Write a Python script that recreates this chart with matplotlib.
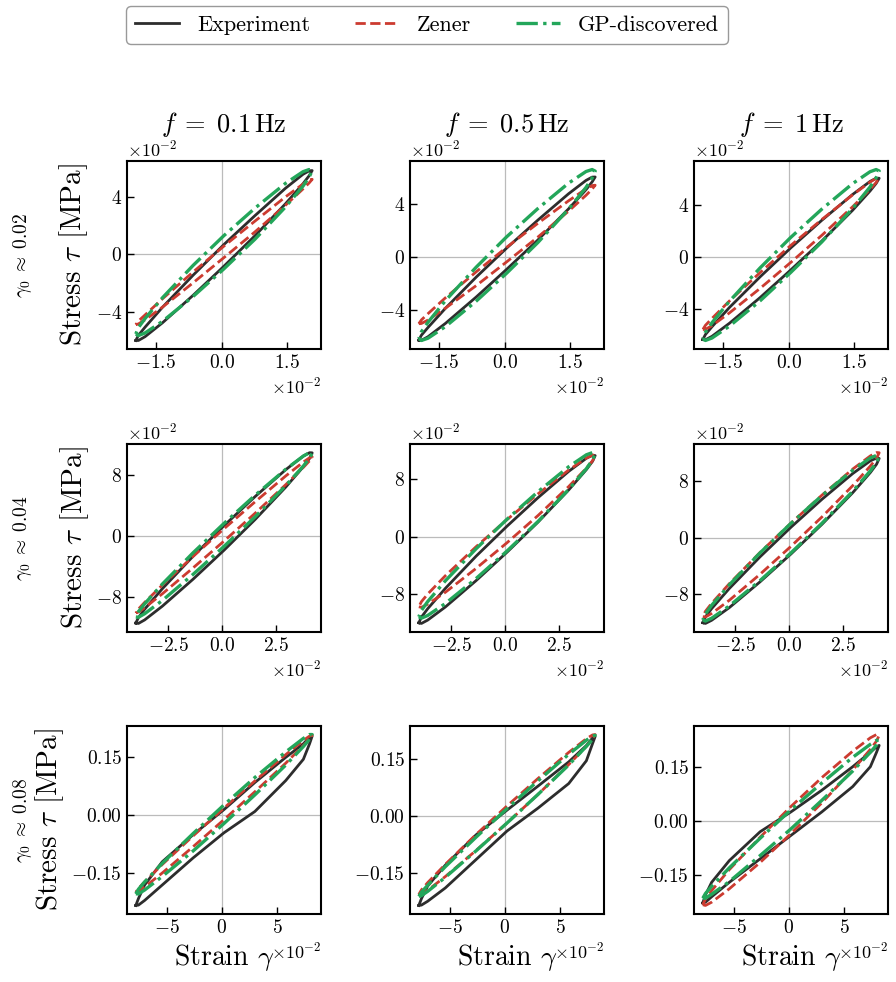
import numpy as np
import matplotlib.pyplot as plt
from matplotlib.ticker import ScalarFormatter

plt.rcParams['font.family'] = 'serif'
plt.rcParams['font.serif'] = ['cmr10']
plt.rcParams['mathtext.fontset'] = 'cm'
plt.rcParams['axes.formatter.use_mathtext'] = True

# column / row headers
freqs = ['0.1', '0.5', '1']
amps = ['0.02', '0.04', '0.08']

# strain grid for each row (x 1e-2)
strain_r1 = [-1.96, -1.90, -1.75, -1.35, -0.65, 0.05, 0.76, 1.46, 1.86, 2.0, 2.07]
strain_r2 = [-4.0, -3.88, -3.59, -2.77, -1.34, 0.1, 1.54, 2.97, 3.79, 4.08, 4.2]
strain_r3 = [-7.8, -7.56, -7.0, -5.4, -2.6, 0.2, 3.0, 5.8, 7.4, 7.96, 8.2]

# ticks per row
xticks_rows = [[-0.015, 0, 0.015], [-0.025, 0, 0.025], [-0.05, 0, 0.05]]
yticks_rows = [[-0.04, 0, 0.04], [-0.08, 0, 0.08], [-0.15, 0, 0.15]]
stress_scale = [1e-2, 1e-2, 1.0]

# stress on the upper and lower branch of each loop
# row 1 (x 1e-2 MPa)
exp_up_11 = [-6.0, -5.64, -5.08, -3.69, -1.46, 0.66, 2.67, 4.58, 5.55, 5.79, 5.81]
exp_lo_11 = [-6.0, -6.0, -5.74, -4.77, -2.86, -0.85, 1.27, 3.50, 4.89, 5.45, 5.81]
zen_up_11 = [-4.9, -4.65, -4.23, -3.10, -1.24, 0.55, 2.29, 3.98, 4.87, 5.15, 5.2]
zen_lo_11 = [-4.9, -4.85, -4.57, -3.68, -1.99, -0.25, 1.54, 3.40, 4.53, 4.95, 5.2]
gp_up_11 = [-5.55, -5.10, -4.48, -3.03, -0.78, 1.28, 3.19, 4.92, 5.73, 5.88, 5.8]
gp_lo_11 = [-5.55, -5.66, -5.48, -4.67, -2.94, -1.03, 1.03, 3.28, 4.73, 5.35, 5.8]

exp_up_12 = [-6.26, -5.88, -5.30, -3.85, -1.51, 0.69, 2.79, 4.77, 5.78, 6.03, 6.04]
exp_lo_12 = [-6.26, -6.27, -6.00, -4.99, -3.01, -0.91, 1.29, 3.63, 5.08, 5.67, 6.04]
zen_up_12 = [-5.02, -4.73, -4.26, -3.06, -1.11, 0.75, 2.55, 4.24, 5.14, 5.39, 5.42]
zen_lo_12 = [-5.02, -5.00, -4.74, -3.84, -2.15, -0.35, 1.51, 3.46, 4.66, 5.13, 5.42]
gp_up_12 = [-6.14, -5.62, -4.91, -3.27, -0.76, 1.54, 3.66, 5.57, 6.45, 6.60, 6.48]
gp_lo_12 = [-6.14, -6.28, -6.11, -5.23, -3.32, -1.20, 1.10, 3.61, 5.25, 5.96, 6.48]

exp_up_13 = [-6.36, -5.97, -5.37, -3.88, -1.52, 0.71, 2.84, 4.82, 5.83, 6.08, 6.08]
exp_lo_13 = [-6.36, -6.38, -6.11, -5.10, -3.12, -0.99, 1.24, 3.60, 5.09, 5.68, 6.08]
zen_up_13 = [-5.59, -5.26, -4.73, -3.38, -1.19, 0.90, 2.90, 4.79, 5.78, 6.07, 6.08]
zen_lo_13 = [-5.59, -5.57, -5.29, -4.30, -2.41, -0.41, 1.68, 3.87, 5.22, 5.75, 6.08]
gp_up_13 = [-6.3, -5.78, -5.06, -3.40, -0.83, 1.52, 3.70, 5.66, 6.58, 6.75, 6.64]
gp_lo_13 = [-6.3, -6.43, -6.24, -5.32, -3.37, -1.18, 1.17, 3.74, 5.40, 6.12, 6.64]

# row 2 (x 1e-2 MPa)
exp_up_21 = [-11.37, -10.65, -9.56, -6.89, -2.64, 1.36, 5.15, 8.68, 10.47, 10.9, 10.88]
exp_lo_21 = [-11.37, -11.42, -10.96, -9.17, -5.64, -1.85, 2.15, 6.40, 9.07, 10.16, 10.88]
zen_up_21 = [-10.04, -9.54, -8.67, -6.41, -2.66, 0.96, 4.47, 7.86, 9.68, 10.24, 10.35]
zen_lo_21 = [-10.04, -9.93, -9.37, -7.55, -4.16, -0.65, 2.97, 6.72, 8.98, 9.85, 10.35]
gp_up_21 = [-10.57, -9.88, -8.85, -6.28, -2.19, 1.66, 5.32, 8.73, 10.46, 10.92, 10.88]
gp_lo_21 = [-10.57, -10.61, -10.15, -8.42, -5.01, -1.35, 2.50, 6.59, 9.16, 10.19, 10.88]

exp_up_22 = [-11.94, -11.16, -10.00, -7.19, -2.73, 1.43, 5.37, 9.02, 10.83, 11.25, 11.2]
exp_lo_22 = [-11.94, -12.03, -11.57, -9.76, -6.11, -2.17, 1.99, 6.45, 9.26, 10.42, 11.2]
zen_up_22 = [-9.72, -9.02, -7.97, -5.44, -1.42, 2.34, 5.90, 9.20, 10.85, 11.28, 11.2]
zen_lo_22 = [-9.72, -9.80, -9.37, -7.72, -4.42, -0.86, 2.90, 6.92, 9.45, 10.50, 11.2]
gp_up_22 = [-11.1, -10.23, -9.01, -6.14, -1.70, 2.39, 6.20, 9.66, 11.31, 11.62, 11.48]
gp_lo_22 = [-11.1, -11.30, -10.93, -9.28, -5.82, -2.01, 2.08, 6.52, 9.39, 10.61, 11.48]

exp_up_23 = [-12.09, -11.28, -10.09, -7.23, -2.72, 1.50, 5.47, 9.13, 10.94, 11.35, 11.28]
exp_lo_23 = [-12.09, -12.20, -11.75, -9.95, -6.28, -2.31, 1.91, 6.41, 9.28, 10.47, 11.28]
zen_up_23 = [-11.23, -10.48, -9.34, -6.55, -2.10, 2.08, 6.06, 9.77, 11.64, 12.12, 12.09]
zen_lo_23 = [-11.23, -11.28, -10.78, -8.91, -5.20, -1.22, 2.96, 7.41, 10.20, 11.34, 12.09]
gp_up_23 = [-11.7, -10.84, -9.62, -6.71, -2.16, 2.05, 6.00, 9.61, 11.36, 11.72, 11.6]
gp_lo_23 = [-11.7, -11.86, -11.46, -9.71, -6.10, -2.15, 2.06, 6.61, 9.52, 10.74, 11.6]

# row 3 (MPa)
exp_up_31 = [-0.233, -0.215, -0.18, -0.12, -0.05, 0.015, 0.085, 0.15, 0.185, 0.202, 0.205]
exp_lo_31 = [-0.233, -0.232, -0.22, -0.18, -0.11, -0.045, 0.01, 0.09, 0.145, 0.185, 0.205]
zen_up_31 = [-0.199, -0.189, -0.172, -0.127, -0.053, 0.019, 0.089, 0.157, 0.194, 0.205, 0.2075]
zen_lo_31 = [-0.199, -0.197, -0.185, -0.149, -0.081, -0.011, 0.061, 0.135, 0.181, 0.197, 0.2075]
gp_up_31 = [-0.203, -0.191, -0.172, -0.124, -0.047, 0.027, 0.098, 0.164, 0.199, 0.209, 0.209]
gp_lo_31 = [-0.203, -0.203, -0.193, -0.158, -0.092, -0.021, 0.053, 0.130, 0.178, 0.197, 0.209]

exp_up_32 = [-0.236, -0.218, -0.185, -0.13, -0.05, 0.015, 0.078, 0.142, 0.185, 0.205, 0.209]
exp_lo_32 = [-0.236, -0.235, -0.225, -0.19, -0.115, -0.04, 0.02, 0.085, 0.145, 0.19, 0.209]
zen_up_32 = [-0.207, -0.195, -0.176, -0.128, -0.049, 0.026, 0.098, 0.167, 0.203, 0.213, 0.214]
zen_lo_32 = [-0.207, -0.206, -0.196, -0.160, -0.091, -0.019, 0.056, 0.135, 0.183, 0.203, 0.214]
gp_up_32 = [-0.212, -0.201, -0.183, -0.134, -0.056, 0.019, 0.092, 0.162, 0.199, 0.210, 0.212]
gp_lo_32 = [-0.212, -0.210, -0.199, -0.162, -0.092, -0.019, 0.056, 0.134, 0.183, 0.201, 0.212]

exp_up_33 = [-0.227, -0.205, -0.17, -0.11, -0.03, 0.025, 0.085, 0.15, 0.19, 0.205, 0.209]
exp_lo_33 = [-0.227, -0.225, -0.21, -0.17, -0.105, -0.04, 0.025, 0.095, 0.15, 0.19, 0.209]
zen_up_33 = [-0.232, -0.216, -0.193, -0.135, -0.045, 0.040, 0.120, 0.193, 0.230, 0.239, 0.237]
zen_lo_33 = [-0.232, -0.234, -0.225, -0.188, -0.115, -0.035, 0.050, 0.141, 0.198, 0.221, 0.237]
gp_up_33 = [-0.214, -0.201, -0.181, -0.130, -0.048, 0.031, 0.105, 0.176, 0.212, 0.223, 0.223]
gp_lo_33 = [-0.214, -0.214, -0.203, -0.168, -0.096, -0.022, 0.057, 0.138, 0.190, 0.210, 0.223]

strain_rows = [strain_r1, strain_r2, strain_r3]
loops = {
    (0, 0): [(exp_up_11, exp_lo_11), (zen_up_11, zen_lo_11), (gp_up_11, gp_lo_11)],
    (0, 1): [(exp_up_12, exp_lo_12), (zen_up_12, zen_lo_12), (gp_up_12, gp_lo_12)],
    (0, 2): [(exp_up_13, exp_lo_13), (zen_up_13, zen_lo_13), (gp_up_13, gp_lo_13)],
    (1, 0): [(exp_up_21, exp_lo_21), (zen_up_21, zen_lo_21), (gp_up_21, gp_lo_21)],
    (1, 1): [(exp_up_22, exp_lo_22), (zen_up_22, zen_lo_22), (gp_up_22, gp_lo_22)],
    (1, 2): [(exp_up_23, exp_lo_23), (zen_up_23, zen_lo_23), (gp_up_23, gp_lo_23)],
    (2, 0): [(exp_up_31, exp_lo_31), (zen_up_31, zen_lo_31), (gp_up_31, gp_lo_31)],
    (2, 1): [(exp_up_32, exp_lo_32), (zen_up_32, zen_lo_32), (gp_up_32, gp_lo_32)],
    (2, 2): [(exp_up_33, exp_lo_33), (zen_up_33, zen_lo_33), (gp_up_33, gp_lo_33)],
}

names = ['Experiment', 'Zener', 'GP-discovered']
colors = ['#2d2d2d', '#cc3b30', '#23a65a']
styles = ['-', '--', '-.']
widths = [2.0, 2.0, 2.4]

W, H = 896, 982
fig = plt.figure(figsize=(W / 100, H / 100), dpi=100)

lefts = [127, 410, 694]
tops = [161, 444, 726]
aw, ah = 194, 188

for r in range(3):
    for c in range(3):
        ax = fig.add_axes([lefts[c] / W, 1 - (tops[r] + ah) / H, aw / W, ah / H])
        ax.axvline(0, color='#bbbbbb', lw=0.9, zorder=0)
        ax.axhline(0, color='#bbbbbb', lw=0.9, zorder=0)
        x = np.array(strain_rows[r]) * 1e-2
        for k, (up, lo) in enumerate(loops[(r, c)]):
            up = np.array(up) * stress_scale[r]
            lo = np.array(lo) * stress_scale[r]
            lx = np.concatenate([x, x[::-1][1:]])
            ly = np.concatenate([lo, up[::-1][1:]])
            ax.plot(lx, ly, color=colors[k], ls=styles[k], lw=widths[k],
                    label=names[k], solid_joinstyle='round',
                    dash_joinstyle='round')
        ax.set_xticks(xticks_rows[r])
        ax.set_yticks(yticks_rows[r])
        for axis in (ax.xaxis, ax.yaxis):
            fmt = ScalarFormatter(useMathText=True)
            fmt.set_powerlimits((-2, 2))
            axis.set_major_formatter(fmt)
            axis.get_offset_text().set_fontsize(13)
        ax.tick_params(direction='in', length=5, width=1, labelsize=14)
        for s in ax.spines.values():
            s.set_linewidth(1.5)
        if r == 0:
            ax.set_title(r'$f\;=\;%s\,\mathrm{Hz}$' % freqs[c], fontsize=19, pad=4)
        if c == 0:
            ax.set_ylabel(r'Stress $\tau$ [MPa]', fontsize=21)
            fig.text(22 / W, 1 - (tops[r] + ah / 2) / H,
                     r'$\gamma_0\;\approx\;%s$' % amps[r], rotation=90,
                     ha='center', va='center', fontsize=14)
        if r == 2:
            ax.set_xlabel(r'Strain $\gamma$', fontsize=20)
        if r == 0 and c == 0:
            handles, labels = ax.get_legend_handles_labels()

fig.legend(handles, labels, loc='center', ncol=3, fontsize=16,
           bbox_to_anchor=(427 / W, 1 - 25 / H), edgecolor='#999999',
           framealpha=1)

fig.savefig('out.png', dpi=100)
